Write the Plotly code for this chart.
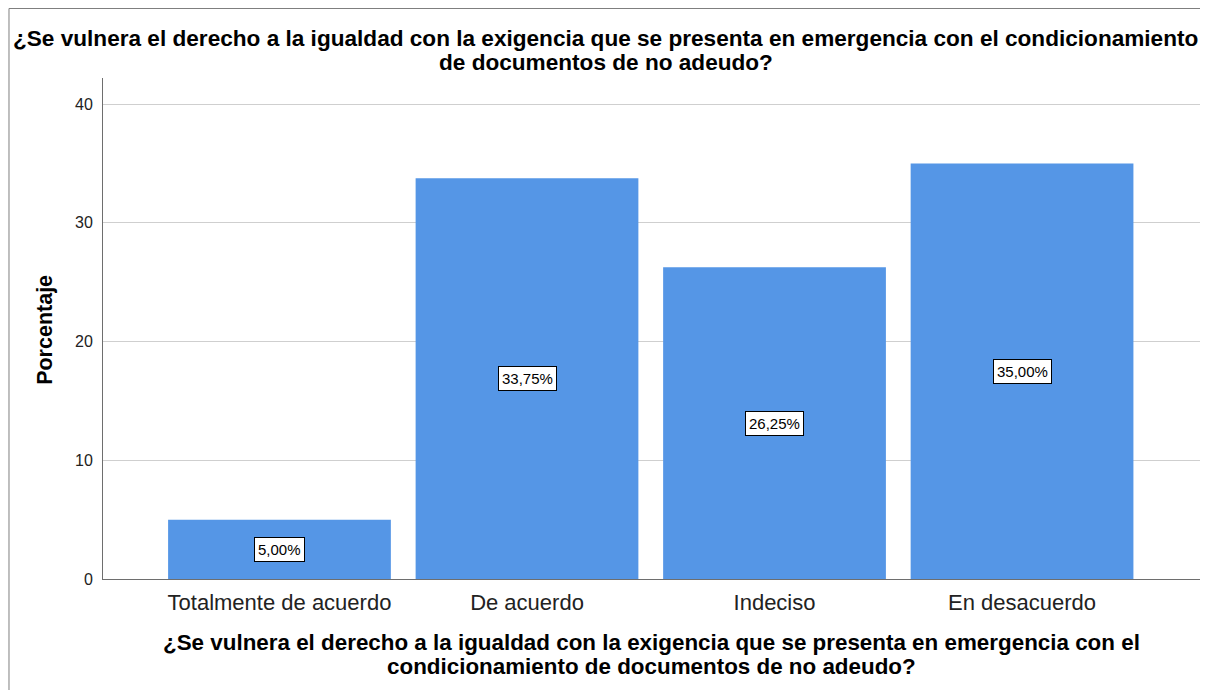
import plotly.graph_objects as go

TITLE_LINES = [
    "¿Se vulnera el derecho a la igualdad con la exigencia que se presenta en emergencia con el condicionamiento",
    "de documentos de no adeudo?",
]
XTITLE_LINES = [
    "¿Se vulnera el derecho a la igualdad con la exigencia que se presenta en emergencia con el",
    "condicionamiento de documentos de no adeudo?",
]
YTITLE = "Porcentaje"
CATEGORIES = ["Totalmente de acuerdo", "De acuerdo", "Indeciso", "En desacuerdo"]
PERCENTS = [5.00, 33.75, 26.25, 35.00]
Y_TICKS = [0, 10, 20, 30, 40]

BAR_COLOR = "#5596e6"
FONT = "Liberation Sans, Arial, sans-serif"


def fmt_pct(v: float) -> str:
    return f"{v:.2f}".replace(".", ",") + "%"


fig = go.Figure()
fig.add_trace(
    go.Bar(
        x=CATEGORIES,
        y=PERCENTS,
        marker=dict(color=BAR_COLOR, line=dict(width=0)),
        width=0.9,
        hoverinfo="x+y",
    )
)

# boxed value labels at half bar height
for cat, val in zip(CATEGORIES, PERCENTS):
    fig.add_annotation(
        x=cat, y=val / 2, xref="x", yref="y",
        text=fmt_pct(val),
        showarrow=False,
        font=dict(family=FONT, size=15, color="black"),
        bgcolor="white",
        bordercolor="black",
        borderwidth=1,
        borderpad=3,
    )

# chart title (tight line spacing, so one annotation per line)
for line, yy in zip(TITLE_LINES, [1.0798, 1.0319]):
    fig.add_annotation(
        x=0.4585, y=yy, xref="paper", yref="paper",
        text=f"<b>{line}</b>", showarrow=False,
        xanchor="center", yanchor="middle",
        font=dict(family=FONT, size=22.6, color="black"),
    )

# x axis title
for line, yy in zip(XTITLE_LINES, [-0.1277, -0.1756]):
    fig.add_annotation(
        x=0.5, y=yy, xref="paper", yref="paper",
        text=f"<b>{line}</b>", showarrow=False,
        xanchor="center", yanchor="middle",
        font=dict(family=FONT, size=22.4, color="black"),
    )

# y axis title
fig.add_annotation(
    x=-0.053, y=0.497, xref="paper", yref="paper",
    text=f"<b>{YTITLE}</b>", showarrow=False, textangle=-90,
    xanchor="center", yanchor="middle",
    font=dict(family=FONT, size=21.5, color="black"),
)

# outer frame (top and left edges)
fig.add_shape(type="line", xref="paper", yref="paper",
              x0=-0.0857, x1=1.01, y0=1.1387, y1=1.1387,
              line=dict(color="#7f7f7f", width=1))
fig.add_shape(type="line", xref="paper", yref="paper",
              x0=-0.0857, x1=-0.0857, y0=1.1387, y1=-0.23,
              line=dict(color="#7f7f7f", width=1))

fig.update_layout(
    width=1200,
    height=682,
    template="plotly_white",
    plot_bgcolor="white",
    paper_bgcolor="white",
    showlegend=False,
    margin=dict(l=95, r=8, t=70, b=111),
    font=dict(family=FONT, color="black"),
)

fig.update_xaxes(
    range=[-0.713, 3.719],
    showline=True,
    linecolor="#6e6e6e",
    linewidth=1,
    showgrid=False,
    ticks="",
    ticklabelstandoff=4,
    tickfont=dict(family=FONT, size=22, color="#222"),
)
fig.update_yaxes(
    range=[0, 42.2],
    tickvals=Y_TICKS,
    showline=True,
    linecolor="#6e6e6e",
    linewidth=1,
    showgrid=True,
    gridcolor="#cfcfcf",
    gridwidth=1,
    zeroline=False,
    ticks="",
    ticklabelstandoff=6,
    tickfont=dict(family=FONT, size=16, color="#222"),
)

fig.write_html("out.html")
